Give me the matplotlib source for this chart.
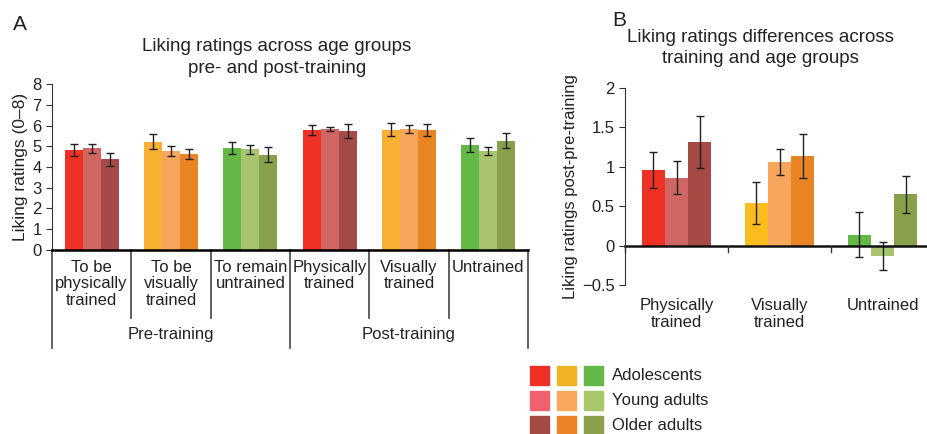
import matplotlib.pyplot as plt
import numpy as np

plt.rcParams['font.family'] = ['Liberation Sans', 'DejaVu Sans']
plt.rcParams['font.size'] = 11.7

# panel A: ratings per condition, three age groups each
groups_a = ['To be\nphysically\ntrained', 'To be\nvisually\ntrained', 'To remain\nuntrained',
            'Physically\ntrained', 'Visually\ntrained', 'Untrained']
phase_labels = ['Pre-training', 'Post-training']
adol_a = [4.8, 5.22, 4.92, 5.77, 5.79, 5.07]
young_a = [4.9, 4.78, 4.86, 5.82, 5.84, 4.76]
older_a = [4.37, 4.62, 4.58, 5.74, 5.79, 5.27]
adol_a_err = [0.29, 0.36, 0.29, 0.24, 0.32, 0.34]
young_a_err = [0.22, 0.23, 0.22, 0.1, 0.2, 0.2]
older_a_err = [0.32, 0.25, 0.36, 0.33, 0.3, 0.37]

# panel B: post minus pre differences
groups_b = ['Physically\ntrained', 'Visually\ntrained', 'Untrained']
adol_b = [0.96, 0.54, 0.14]
young_b = [0.86, 1.06, -0.13]
older_b = [1.32, 1.14, 0.65]
adol_b_err = [0.225, 0.27, 0.29]
young_b_err = [0.21, 0.16, 0.18]
older_b_err = [0.33, 0.28, 0.23]

age_labels = ['Adolescents', 'Young adults', 'Older adults']

# colours per training type (rows: age group)
reds = ['#EE3124', '#CF6661', '#A54A45']
oranges = ['#F8B133', '#F7A65C', '#E98423']
greens = ['#64B946', '#A9C46E', '#89A04B']
legend_cols = [['#EE3124', '#F0B323', '#64B946'],
               ['#F0606E', '#F9A95C', '#A9C66B'],
               ['#A54A43', '#EB8425', '#8AA04B']]

fig = plt.figure(figsize=(9.28, 4.34), dpi=100)
txt = '#222222'
ecol = '#222222'

# ---------- panel A ----------
ax = fig.add_axes([52/928, 1-250/434, 476/928, 166/434])
x = np.arange(len(groups_a))
w = 0.228
pal_a = [reds, oranges, greens, reds, oranges, greens]
for i, (vals, errs) in enumerate([(adol_a, adol_a_err), (young_a, young_a_err), (older_a, older_a_err)]):
    cols = [p[i] for p in pal_a]
    ax.bar(x + (i-1)*w, vals, w, yerr=errs, color=cols,
           error_kw=dict(ecolor=ecol, elinewidth=1, capsize=3, capthick=1))
ax.set_xlim(-0.5, 5.5)
ax.set_ylim(0, 8)
ax.set_yticks(range(9))
ax.set_xticks([])
ax.spines['top'].set_visible(False)
ax.spines['right'].set_visible(False)
ax.spines['bottom'].set_linewidth(1.8)
ax.spines['left'].set_color('#333333')
ax.tick_params(axis='y', direction='out', length=4, colors='#333333', labelcolor=txt, labelsize=12)
ax.set_ylabel('Liking ratings (0–8)', color=txt, fontsize=12.5, labelpad=3)
fig.text(277/928, 1-57.5/434, 'Liking ratings across age groups\npre- and post-training',
         ha='center', va='center', color=txt, fontsize=13.5, linespacing=1.4)

tr = ax.get_xaxis_transform()
for b in np.arange(-0.5, 6, 1):
    bottom = -0.59 if b in (-0.5, 2.5, 5.5) else -0.41
    ax.plot([b, b], [0, bottom], transform=tr, color='#444444', lw=1.2, clip_on=False)
for xi, lab in zip(x, groups_a):
    ax.text(xi, -0.06, lab, transform=tr, ha='center', va='top', color=txt, fontsize=12,
            linespacing=1.12)
for xi, lab in zip([1, 4], phase_labels):
    ax.text(xi, -0.465, lab, transform=tr, ha='center', va='top', color=txt, fontsize=12)

# ---------- panel B ----------
bx = fig.add_axes([625/928, 1-285/434, 309/928, 197/434])
xb = np.arange(len(groups_b))
wb = 0.225
pal_b = [reds, ['#FDBD1E', '#F7A65C', '#E98423'], greens]
for i, (vals, errs) in enumerate([(adol_b, adol_b_err), (young_b, young_b_err), (older_b, older_b_err)]):
    cols = [p[i] for p in pal_b]
    bx.bar(xb + (i-1)*wb, vals, wb, yerr=errs, color=cols,
           error_kw=dict(ecolor=ecol, elinewidth=1, capsize=3, capthick=1))
bx.set_xlim(-0.5, 2.5)
bx.set_ylim(-0.5, 2)
bx.set_yticks([-0.5, 0, 0.5, 1, 1.5, 2])
bx.set_yticklabels(['−0.5', '0', '0.5', '1', '1.5', '2'])
bx.set_xticks([])
for s in ['top', 'right', 'bottom']:
    bx.spines[s].set_visible(False)
bx.spines['left'].set_color('#333333')
bx.axhline(0, color='#111111', lw=1.8, clip_on=False)
trb = bx.get_xaxis_transform()
for b in [-0.5, 0.5, 1.5]:
    bx.plot([b, b], [0.2, 0.17], transform=trb, color='#333333', lw=1, clip_on=False)
bx.tick_params(axis='y', direction='out', length=4, colors='#333333', labelcolor=txt, labelsize=12)
bx.set_ylabel('Liking ratings post-pre-training', color=txt, fontsize=12, labelpad=3)
for xi, lab in zip(xb, groups_b):
    bx.text(xi, -0.065, lab, transform=trb, ha='center', va='top', color=txt, fontsize=12,
            linespacing=1.2)
fig.text(760/928, 1-48/434, 'Liking ratings differences across\ntraining and age groups',
         ha='center', va='center', color=txt, fontsize=13.5, linespacing=1.35)

# panel letters
fig.text(13/928, 1-24/434, 'A', fontsize=15, color=txt, va='center')
fig.text(612/928, 1-21/434, 'B', fontsize=15, color=txt, va='center')

# ---------- legend ----------
sq = 19
for r in range(3):
    yc = 375 + r*25
    for c in range(3):
        x0 = 530 + c*27
        fig.patches.append(plt.Rectangle((x0/928, 1-(yc+sq/2)/434), sq/928, sq/434,
                                         transform=fig.transFigure, color=legend_cols[r][c]))
    fig.text(612/928, 1-yc/434, age_labels[r], va='center', ha='left', color=txt, fontsize=12)

fig.savefig('out.png', dpi=100)
